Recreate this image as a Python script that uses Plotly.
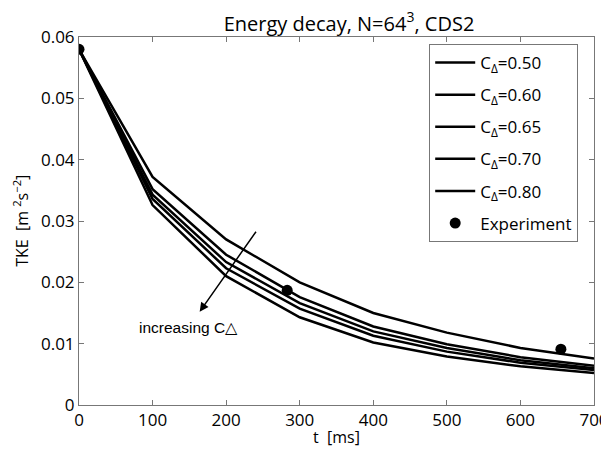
import plotly.graph_objects as go

t = [0, 100, 200, 300, 400, 500, 600, 700]
c_labels = ["0.50", "0.60", "0.65", "0.70", "0.80"]
tke_050 = [0.058, 0.0372, 0.0270, 0.0200, 0.0150, 0.0118, 0.0093, 0.0076]
tke_060 = [0.058, 0.0352, 0.0245, 0.0176, 0.0128, 0.0099, 0.0078, 0.0064]
tke_065 = [0.058, 0.0343, 0.0233, 0.0166, 0.0120, 0.0093, 0.0073, 0.0060]
tke_070 = [0.058, 0.0336, 0.0223, 0.0157, 0.0113, 0.0087, 0.0069, 0.0057]
tke_080 = [0.058, 0.0326, 0.0210, 0.0143, 0.0102, 0.0079, 0.0063, 0.0052]
exp_t = [0, 283, 655]
exp_tke = [0.058, 0.0187, 0.0091]

series = [tke_050, tke_060, tke_065, tke_070, tke_080]
FONT = "Open Sans"

fig = go.Figure()
for i, (lab, ys) in enumerate(zip(c_labels, series)):
    fig.add_trace(go.Scatter(x=t, y=ys, mode="lines",
                             line=dict(color="black", width=2.5),
                             legendgroup=f"g{i}",
                             name=f"C<sub>Δ</sub>=" + lab))
fig.add_trace(go.Scatter(x=exp_t, y=exp_tke, mode="markers",
                         marker=dict(color="black", size=11),
                         legendgroup="gexp",
                         name="Experiment"))

fig.add_annotation(x=164, y=0.0152, ax=242, ay=0.0285, xref="x", yref="y",
                   axref="x", ayref="y", showarrow=True, arrowhead=2,
                   arrowsize=1.2, arrowwidth=1.5, arrowcolor="black", text="")
fig.add_annotation(x=79, y=0.0127, xref="x", yref="y", xanchor="left",
                   yanchor="middle", showarrow=False,
                   text="increasing C△", font=dict(family="Liberation Sans", size=15.5, color="black"))
# axis titles
fig.add_annotation(x=0.5, y=-0.087, xref="paper", yref="paper", xanchor="center",
                   yanchor="middle", showarrow=False, text="t  [ms]",
                   font=dict(family=FONT, size=16, color="black"))
fig.add_annotation(x=-0.113, y=0.5, xref="paper", yref="paper", xanchor="center",
                   yanchor="middle", showarrow=False, textangle=-90,
                   text="TKE  [m <sup>2</sup>s<sup>−2</sup>]",
                   font=dict(family=FONT, size=16, color="black"))

axis_common = dict(showline=True, linecolor="#777", linewidth=1, mirror="ticks",
                   ticks="inside", ticklen=5, tickcolor="#777", showgrid=False,
                   zeroline=False, automargin=False,
                   tickfont=dict(family=FONT, size=17, color="black"))
fig.update_xaxes(range=[0, 700], tickvals=t, ticktext=[str(v) for v in t],
                 **axis_common)
fig.update_yaxes(range=[0, 0.06], tickvals=[0, 0.01, 0.02, 0.03, 0.04, 0.05, 0.06],
                 ticktext=["0", "0.01", "0.02", "0.03", "0.04", "0.05", "0.06"],
                 **axis_common)

fig.update_layout(
    width=601, height=449,
    margin=dict(l=71, r=15, t=29, b=52),
    paper_bgcolor="white", plot_bgcolor="white",
    title=dict(text="Energy decay, N=64<sup>3</sup>, CDS2", x=341 / 601, xanchor="center",
               y=0.965, yanchor="middle", font=dict(family=FONT, size=20, color="black")),
    legend=dict(x=0.68, y=0.981, xanchor="left", yanchor="top",
                bordercolor="#777", borderwidth=1, bgcolor="white",
                font=dict(family=FONT, size=17, color="black"),
                tracegroupgap=7, itemwidth=40),
    showlegend=True,
)
fig.write_html("out.html")
